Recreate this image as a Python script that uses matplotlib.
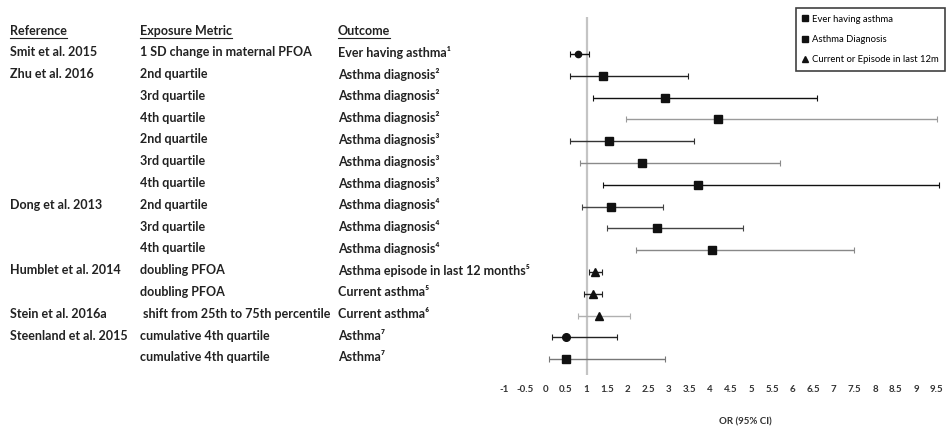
import matplotlib.pyplot as plt
import matplotlib.transforms as mtransforms
from matplotlib.lines import Line2D


# Study rows, top to bottom.
references = ["Smit et al. 2015", "Zhu et al. 2016", "", "", "", "", "",
              "Dong et al. 2013", "", "", "Humblet et al. 2014", "",
              "Stein et al. 2016a", "Steenland et al. 2015", ""]
exposures = ["1 SD change in maternal PFOA", "2nd quartile", "3rd quartile",
             "4th quartile", "2nd quartile", "3rd quartile", "4th quartile",
             "2nd quartile", "3rd quartile", "4th quartile", "doubling PFOA",
             "doubling PFOA", " shift from 25th to 75th percentile",
             "cumulative 4th quartile", "cumulative 4th quartile"]
outcomes = ["Ever having asthma\u00b9", "Asthma diagnosis\u00b2",
            "Asthma diagnosis\u00b2", "Asthma diagnosis\u00b2",
            "Asthma diagnosis\u00b3", "Asthma diagnosis\u00b3",
            "Asthma diagnosis\u00b3", "Asthma diagnosis\u2074",
            "Asthma diagnosis\u2074", "Asthma diagnosis\u2074",
            "Asthma episode in last 12 months\u2075", "Current asthma\u2075",
            "Current asthma\u2076", "Asthma\u2077", "Asthma\u2077"]
or_values = [0.8, 1.4, 2.9, 4.2, 1.55, 2.35, 3.7, 1.6, 2.7, 4.05,
             1.2, 1.15, 1.3, 0.5, 0.5]
ci_low = [0.6, 0.6, 1.15, 1.95, 0.6, 0.85, 1.4, 0.9, 1.5, 2.2,
          1.05, 0.95, 0.8, 0.15, 0.08]
ci_high = [1.05, 3.45, 6.6, 9.5, 3.6, 5.7, 9.55, 2.85, 4.8, 7.5,
           1.37, 1.38, 2.05, 1.75, 2.9]
outcome_group = ["ever", "diag", "diag", "diag", "diag", "diag", "diag",
                 "diag", "diag", "diag", "current", "current", "current",
                 "ever", "diag"]
x_ticks = [i * 0.5 - 1 for i in range(22)]
x_tick_labels = ["-1", "-0.5", "0", "0.5", "1", "1.5", "2", "2.5", "3",
                 "3.5", "4", "4.5", "5", "5.5", "6", "6.5", "7", "7.5",
                 "8", "8.5", "9", "9.5"]

# Marker per outcome group.
MARKERS = {"ever": "o", "diag": "s", "current": "^"}
# CI line colour per row (the scan shows lighter and darker lines).
LINE_COLORS = ["#111111", "#222222", "#111111", "#9a9a9a", "#333333",
               "#8a8a8a", "#111111", "#444444", "#444444", "#888888",
               "#222222", "#222222", "#b0b0b0", "#222222", "#777777"]

W, H = 949, 430
plt.rcParams["font.family"] = ["Lato", "DejaVu Sans"]
fig = plt.figure(figsize=(W / 100, H / 100), dpi=100)

# Forest-plot axes, placed to match the reference pixel layout.
x_min, x_max = -1.1, 9.65
y_top, y_bot = -1.70, 14.73
ax = fig.add_axes([500 / W, 1 - 375 / H, 443 / W, 358 / H])
ax.set_xlim(x_min, x_max)
ax.set_ylim(y_bot, y_top)

ax.axvline(1, color="#c4c4c4", linewidth=1.6, zorder=1)

for i, (m, lo, hi) in enumerate(zip(or_values, ci_low, ci_high)):
    ax.errorbar(m, i, xerr=[[m - lo], [hi - m]], fmt="none",
                ecolor=LINE_COLORS[i], elinewidth=1.0, capsize=2,
                capthick=0.8, zorder=2)
    size = 4.5 if i == 0 else 5.5
    ax.plot(m, i, marker=MARKERS[outcome_group[i]], color="#111111",
            markersize=size, linestyle="none", zorder=3)

for side in ["top", "right", "left", "bottom"]:
    ax.spines[side].set_visible(False)
ax.set_yticks([])
ax.set_xticks(x_ticks)
ax.set_xticklabels(x_tick_labels, fontsize=7, fontweight="bold",
                   color="#333333")
ax.tick_params(axis="x", length=0, pad=7)
fig.text(745 / W, 1 - 422 / H, "OR (95% CI)", fontsize=7,
         fontweight="bold", color="#333333", ha="center", va="center")

# Text columns to the left of the plot.
trans = mtransforms.blended_transform_factory(fig.transFigure, ax.transData)
col_x = [10 / W, 140 / W, 338 / W]
headers = ["Reference", "Exposure Metric", "Outcome"]
header_texts = []
for x, h in zip(col_x, headers):
    t = fig.text(x, -1.05, h, transform=trans, fontsize=9, fontweight="bold",
                 color="#222222", va="center", ha="left")
    header_texts.append(t)
for i in range(len(or_values)):
    for x, col in zip(col_x, [references, exposures, outcomes]):
        fig.text(x, i - 0.08, col[i], transform=trans, fontsize=9,
                 fontweight="bold", color="#222222", va="center", ha="left")

# Underline the column headers.
fig.canvas.draw()
renderer = fig.canvas.get_renderer()
for t in header_texts:
    bb = t.get_window_extent(renderer)
    y = (bb.y0 - 1) / H
    fig.add_artist(Line2D([bb.x0 / W, bb.x1 / W], [y, y], color="#222222",
                          linewidth=0.8, transform=fig.transFigure))

# Legend.
handles = [
    Line2D([], [], marker="s", color="#111111", linestyle="none",
           markersize=4, label="Ever having asthma"),
    Line2D([], [], marker="s", color="#111111", linestyle="none",
           markersize=4, label="Asthma Diagnosis"),
    Line2D([], [], marker="^", color="#111111", linestyle="none",
           markersize=4, label="Current or Episode in last 12m"),
]
leg = fig.legend(handles=handles, loc="upper right",
                 bbox_to_anchor=(945 / W, 1 - 8 / H), fontsize=6.8,
                 frameon=True, fancybox=False, edgecolor="#111111",
                 labelspacing=1.2, handlelength=0.6, handletextpad=0.4,
                 borderpad=0.7, borderaxespad=0)
leg.get_frame().set_linewidth(1.2)

plt.savefig("out.png", dpi=100)
plt.close()
